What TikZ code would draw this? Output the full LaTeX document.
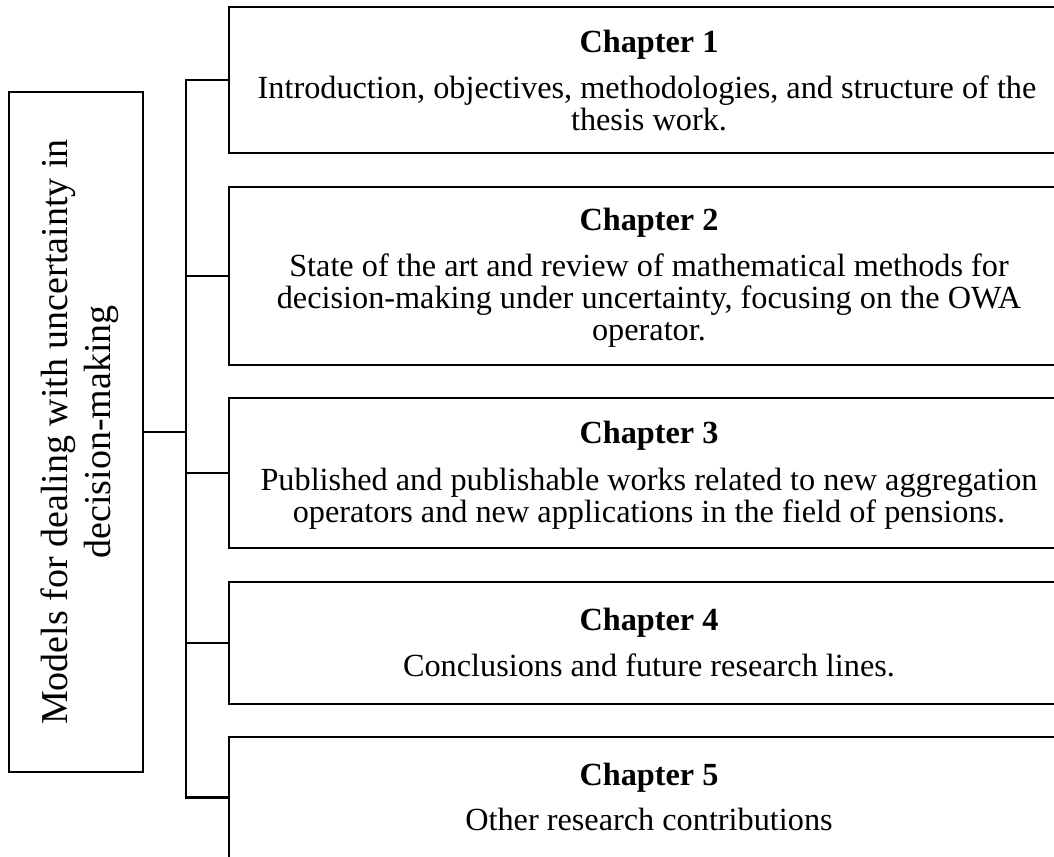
\documentclass[tikz,border=0pt]{standalone}
\usepackage{fontspec}
\setmainfont{Liberation Serif}
\begin{document}
\begin{tikzpicture}[x=0.75pt,y=-0.75pt,
  chbox/.style={draw=black, line width=2.2pt, rectangle, inner sep=0pt, outer sep=0pt, anchor=north west, minimum width=630.75pt},
  leftbox/.style={draw=black, line width=2.2pt, rectangle, inner sep=0pt, outer sep=0pt, anchor=north west, minimum width=100.5pt, minimum height=510pt},
  chtitle/.style={font=\fontsize{24.2}{24}\selectfont\bfseries, anchor=base, inner sep=0pt},
  chline/.style={font=\fontsize{24.2}{24}\selectfont, anchor=base, inner sep=0pt},
  lefttext/.style={font=\fontsize{28.5}{32}\selectfont, rotate=90, align=center, inner sep=0pt},
  conn/.style={draw=black, line width=2.2pt}
]
\useasboundingbox (0,0) rectangle (1054,857);
\clip (0,0) rectangle (1054,857);

% left box
\node[leftbox] (L) at (9,92) {};
\node[lefttext] (Lt) at (80,432) {Models for dealing with uncertainty in\\decision-making};

% chapter boxes
\node[chbox, minimum height=109.5pt] (b1) at (229,7) {};
\node[chbox, minimum height=133.5pt] (b2) at (229,187) {};
\node[chbox, minimum height=112.5pt] (b3) at (229,398) {};
\node[chbox, minimum height=91.5pt]  (b4) at (229,582) {};
\node[chbox, minimum height=90.75pt] (b5) at (229,737) {};

% texts
\node[chtitle] (t1) at (649,52) {Chapter 1};
\node[chline] (t1a) at (647,98) {Introduction, objectives, methodologies, and structure of the};
\node[chline] (t1b) at (649,130) {thesis work.};

\node[chtitle] (t2) at (649,230) {Chapter 2};
\node[chline] (t2a) at (649,276) {State of the art and review of mathematical methods for};
\node[chline] (t2b) at (649,308) {decision-making under uncertainty, focusing on the OWA};
\node[chline] (t2c) at (649,340) {operator.};

\node[chtitle] (t3) at (649,443) {Chapter 3};
\node[chline] (t3a) at (649,490) {Published and publishable works related to new aggregation};
\node[chline] (t3b) at (649,522) {operators and new applications in the field of pensions.};

\node[chtitle] (t4) at (649,630) {Chapter 4};
\node[chline] (t4a) at (649,676) {Conclusions and future research lines.};

\node[chtitle] (t5) at (649,785) {Chapter 5};
\node[chline] (t5a) at (649,830) {Other research contributions};

% connectors
\coordinate (tx) at (186,0);
\coordinate (j) at (L.east -| tx);
\draw[conn] (L.east) -- (j);
\draw[conn] (b1.west) -| (j);
\draw[conn] (b5.west) -| (j);
\draw[conn] (b2.west) -- (b2.west -| tx);
\draw[conn] (b3.west) -- (b3.west -| tx);
\draw[conn] (b4.west) -- (b4.west -| tx);
\end{tikzpicture}
\end{document}
